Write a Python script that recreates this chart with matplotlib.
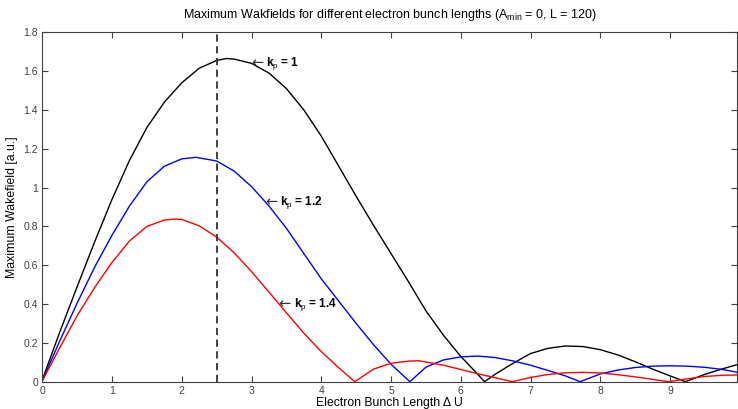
import matplotlib
matplotlib.use("Agg")
import matplotlib.pyplot as plt

plt.rcParams['font.family'] = ['Liberation Sans', 'DejaVu Sans']
plt.rcParams['mathtext.fontset'] = 'custom'
plt.rcParams['mathtext.rm'] = 'Liberation Sans'
plt.rcParams['mathtext.it'] = 'Liberation Sans:italic'
plt.rcParams['mathtext.bf'] = 'Liberation Sans:bold'

# ---- data ----
x_k10 = [0, 0.25, 0.5, 0.75, 1.0, 1.25, 1.5, 1.75, 2.0, 2.25, 2.5, 2.64, 2.75, 3.0, 3.25,
         3.5, 3.75, 4.0, 4.25, 4.5, 4.75, 5.0, 5.25, 5.5, 5.75, 6.0, 6.2, 6.34,
         6.5, 6.75, 7.0, 7.25, 7.5, 7.75, 8.0, 8.25, 8.5, 8.75, 9.0, 9.22, 9.5, 9.75, 10.0]
y_k10 = [0.01, 0.255, 0.49, 0.72, 0.94, 1.14, 1.31, 1.44, 1.54, 1.615, 1.655, 1.665, 1.662, 1.64, 1.59,
         1.51, 1.40, 1.265, 1.11, 0.955, 0.805, 0.66, 0.515, 0.365, 0.24, 0.13, 0.055, 0.0,
         0.04, 0.095, 0.145, 0.172, 0.184, 0.181, 0.165, 0.138, 0.103, 0.065, 0.03, 0.0, 0.038, 0.066, 0.092]

x_k12 = [0, 0.25, 0.5, 0.75, 1.0, 1.25, 1.5, 1.75, 2.0, 2.2, 2.5, 2.75, 3.0, 3.25, 3.5,
         3.75, 4.0, 4.25, 4.5, 4.75, 5.0, 5.15, 5.27,
         5.5, 5.75, 6.0, 6.25, 6.5, 6.75, 7.0, 7.25, 7.5, 7.71,
         8.0, 8.25, 8.5, 8.75, 9.0, 9.25, 9.5, 9.75, 10.0]
y_k12 = [0.005, 0.21, 0.405, 0.59, 0.755, 0.905, 1.03, 1.11, 1.148, 1.156, 1.137, 1.085, 1.005, 0.905, 0.79,
         0.66, 0.53, 0.415, 0.30, 0.19, 0.09, 0.04, 0.0,
         0.075, 0.112, 0.128, 0.132, 0.124, 0.107, 0.085, 0.058, 0.03, 0.0,
         0.04, 0.06, 0.073, 0.08, 0.082, 0.08, 0.074, 0.063, 0.046]

x_k14 = [0, 0.25, 0.5, 0.75, 1.0, 1.25, 1.5, 1.75, 1.9, 2.0, 2.25, 2.5, 2.75, 3.0, 3.25,
         3.5, 3.75, 4.0, 4.25, 4.48,
         4.75, 5.0, 5.25, 5.4, 5.75, 6.0, 6.25, 6.5, 6.74,
         7.0, 7.25, 7.5, 7.75, 8.0, 8.25, 8.5, 8.75, 8.98, 9.25, 9.5, 9.75, 10.0]
y_k14 = [0.005, 0.175, 0.34, 0.485, 0.615, 0.725, 0.80, 0.833, 0.838, 0.836, 0.803, 0.745, 0.664, 0.567, 0.462,
         0.355, 0.25, 0.155, 0.072, 0.0,
         0.065, 0.095, 0.106, 0.108, 0.085, 0.063, 0.04, 0.02, 0.0,
         0.022, 0.037, 0.046, 0.048, 0.045, 0.036, 0.025, 0.012, 0.0, 0.015, 0.027, 0.033, 0.035]

labels = ['k$_{\\mathrm{p}}$ = 1', 'k$_{\\mathrm{p}}$ = 1.2', 'k$_{\\mathrm{p}}$ = 1.4']
label_x = [2.99, 3.19, 3.39]
label_y = [1.64, 0.925, 0.40]
dash_x = 2.5
x_ticks = [0, 1, 2, 3, 4, 5, 6, 7, 8, 9]
y_ticks = [0, 0.2, 0.4, 0.6, 0.8, 1.0, 1.2, 1.4, 1.6, 1.8]
y_ticklabels = ['0', '0.2', '0.4', '0.6', '0.8', '1', '1.2', '1.4', '1.6', '1.8']

fig = plt.figure(figsize=(7.38, 4.09), dpi=100)
ax = fig.add_axes([42.3 / 738, 1 - 381.7 / 409, (737 - 42.3) / 738, (381.7 - 32.3) / 409])

ax.plot(x_k10, y_k10, color='black', lw=1.0)
ax.plot(x_k12, y_k12, color='#0000ff', lw=1.0)
ax.plot(x_k14, y_k14, color='#ff0000', lw=1.0)
ax.axvline(dash_x, color='#333333', lw=1.3, ls=(0, (4, 2.5)))

for lab, lx, ly in zip(labels, label_x, label_y):
    ax.annotate('\u2190', xy=(lx, ly), xytext=(0, 0), textcoords='offset pixels',
                ha='left', va='center', fontsize=10.5, family=['DejaVu Sans'], color='#333333')
    ax.annotate(lab, xy=(lx, ly), xytext=(15, 0), textcoords='offset pixels',
                ha='left', va='center', fontsize=8.5, fontweight='bold', color='black')

ax.set_xlim(0, 9.96)
ax.set_ylim(0, 1.8)
ax.set_xticks(x_ticks)
ax.set_yticks(y_ticks)
ax.set_yticklabels(y_ticklabels)
ax.tick_params(direction='in', length=4.2, width=0.8, top=True, right=True,
               labelsize=7.5, colors='#404040', labelcolor='#404040', pad=3)
for s in ax.spines.values():
    s.set_color('#404040')
    s.set_linewidth(0.8)

ax.set_title('Maximum Wakfields for different electron bunch lengths (A$_{\\mathrm{min}}$ = 0, L = 120)',
             fontsize=9, pad=10)
ax.set_xlabel('Electron Bunch Length \u0394 U', fontsize=8.8, labelpad=1)
ax.set_ylabel('Maximum Wakefield [a.u.]', fontsize=8.8, labelpad=4)

fig.savefig('out.png', dpi=100)
